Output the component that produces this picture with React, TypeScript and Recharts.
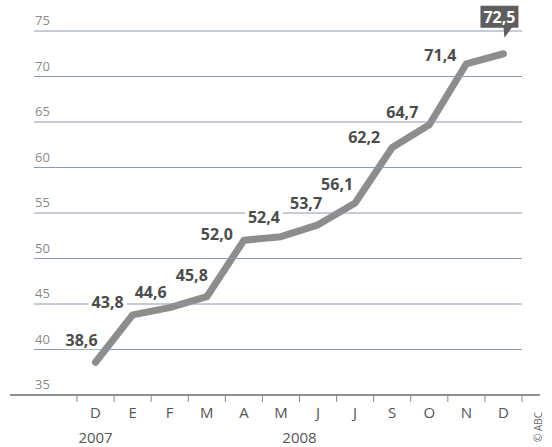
import { LineChart, Line, XAxis, YAxis, LabelList } from "recharts";

const MONTHS = ["D", "E", "F", "M", "A", "M", "J", "J", "S", "O", "N", "D"];
const VALUES = [38.6, 43.8, 44.6, 45.8, 52.0, 52.4, 53.7, 56.1, 62.2, 64.7, 71.4, 72.5];
const Y_TICKS = [35, 40, 45, 50, 55, 60, 65, 70, 75];
const YEARS = [
  { label: "2007", at: 0 },
  { label: "2008", at: 5.5 },
];

// label placement relative to each point (layout only)
const LABEL_OFFSETS: [number, number][] = [
  [-14, -22],
  [-25, -13],
  [-19, -16],
  [-15, -22],
  [-27, -6],
  [-17, -20],
  [-12, -22],
  [-18, -19],
  [-28, -10],
  [-27, -13],
  [-26, -9],
  [-4, -37],
];

const W = 552;
const H = 447;
const PLOT_LEFT = 77;
const PLOT_RIGHT = 522;
const AXIS_Y = 395;
const BAND = (PLOT_RIGHT - PLOT_LEFT) / MONTHS.length;
const FONT = "'Open Sans', 'DejaVu Sans', sans-serif";

const data = MONTHS.map((m, i) => ({ idx: i, month: m, value: VALUES[i] }));

const fmt = (v: number) => v.toFixed(1).replace(".", ",");

function YTick(props: any) {
  const { y, payload } = props;
  const v = payload.value;
  const isBase = v === 35;
  return (
    <g>
      <line
        x1={isBase ? 10 : 34}
        x2={isBase ? 540 : PLOT_RIGHT}
        y1={y}
        y2={y}
        stroke={isBase ? "#6a6a6a" : "#8c9ab2"}
        strokeWidth={isBase ? 1.5 : 1}
      />
      <text x={35} y={y - 6} fontSize={13} fill="#8a8a8a" fontFamily={FONT}>
        {v}
      </text>
    </g>
  );
}

function XTick(props: any) {
  const { x, payload } = props;
  const i = payload.value as number;
  const years = YEARS.filter((yr) => Math.floor(yr.at) === i);
  return (
    <g>
      <line x1={x - BAND / 2} x2={x - BAND / 2} y1={AXIS_Y} y2={AXIS_Y + 7} stroke="#888" />
      {i === MONTHS.length - 1 && (
        <line x1={x + BAND / 2} x2={x + BAND / 2} y1={AXIS_Y} y2={AXIS_Y + 7} stroke="#888" />
      )}
      <text x={x} y={418} textAnchor="middle" fontSize={15} fill="#555" fontFamily={FONT}>
        {MONTHS[i]}
      </text>
      {years.map((yr) => (
        <text
          key={yr.label}
          x={x + (yr.at - i) * BAND}
          y={443}
          textAnchor="middle"
          fontSize={15}
          fill="#555"
          fontFamily={FONT}
        >
          {yr.label}
        </text>
      ))}
    </g>
  );
}

function ValueLabel(props: any) {
  const { x, y, value, index } = props;
  const [dx, dy] = LABEL_OFFSETS[index] || [0, -15];
  const cx = x + dx;
  const cy = y + dy;
  const text = fmt(Number(value));
  if (index === VALUES.length - 1) {
    return (
      <g>
        <rect x={cx - 19} y={cy - 11} width={38} height={22} fill="#5e5e5e" />
        <polygon
          points={`${cx + 4},${cy + 10} ${cx + 13},${cy + 10} ${cx + 5},${cy + 21}`}
          fill="#5e5e5e"
        />
        <text
          x={cx}
          y={cy + 6}
          textAnchor="middle"
          fontSize={16}
          fontWeight="bold"
          fill="#ffffff"
          fontFamily={FONT}
        >
          {text}
        </text>
      </g>
    );
  }
  return (
    <g>
      <rect x={cx - 19} y={cy - 10} width={38} height={19} fill="#ffffff" />
      <text
        x={cx}
        y={cy + 6}
        textAnchor="middle"
        fontSize={16}
        fontWeight="bold"
        fill="#4c4c4c"
        fontFamily={FONT}
      >
        {text}
      </text>
    </g>
  );
}

export default function App() {
  return (
    <div style={{ position: "absolute", left: 0, top: 0, width: W, height: H, background: "#fff" }}>
      <LineChart
        width={W}
        height={H}
        data={data}
        margin={{ top: 31, right: W - PLOT_RIGHT, left: 0, bottom: 0 }}
      >
        <YAxis
          type="number"
          domain={[35, 75]}
          ticks={Y_TICKS}
          width={PLOT_LEFT}
          axisLine={false}
          tickLine={false}
          tick={<YTick />}
          interval={0}
        />
        <XAxis
          type="number"
          dataKey="idx"
          domain={[-0.5, MONTHS.length - 0.5]}
          ticks={data.map((d) => d.idx)}
          height={H - AXIS_Y}
          axisLine={false}
          tickLine={false}
          tick={<XTick />}
          interval={0}
        />
        <Line
          type="linear"
          dataKey="value"
          stroke="#8d8d8d"
          strokeWidth={7}
          strokeLinecap="round"
          strokeLinejoin="round"
          dot={false}
          activeDot={false}
          isAnimationActive={false}
        >
          <LabelList dataKey="value" content={<ValueLabel />} />
        </Line>
      </LineChart>
      <div
        style={{
          position: "absolute",
          left: 531,
          top: 442,
          transform: "rotate(-90deg)",
          transformOrigin: "left top",
          fontSize: 10,
          color: "#666",
          fontFamily: FONT,
          whiteSpace: "nowrap",
        }}
      >
        © ABC
      </div>
    </div>
  );
}
